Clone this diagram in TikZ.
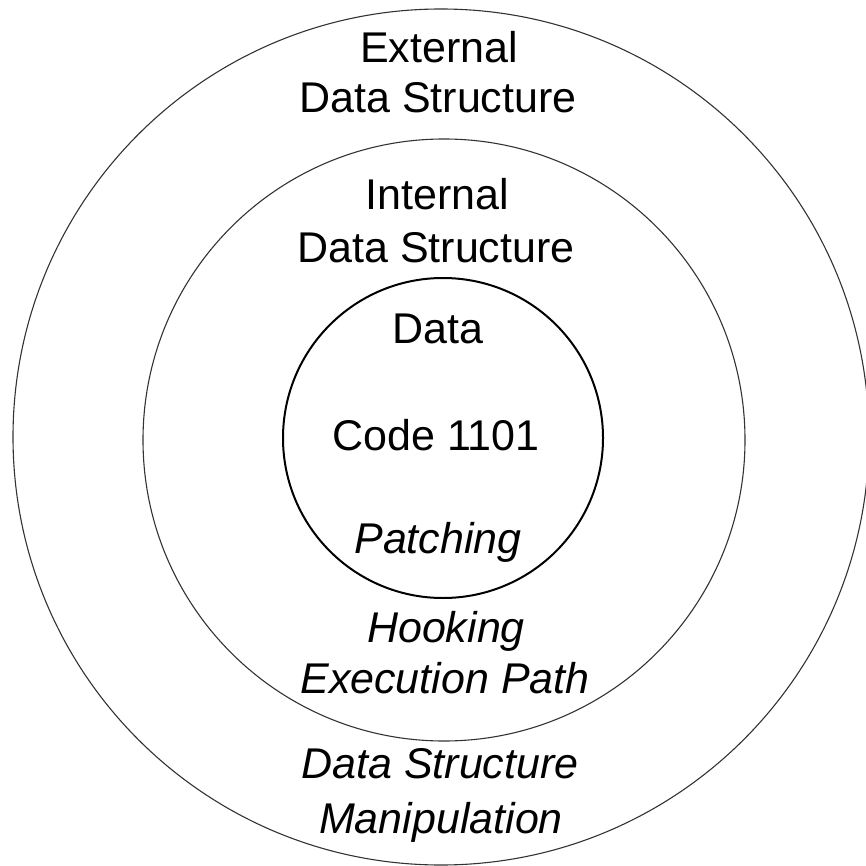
\documentclass[tikz,border=0pt]{standalone}
\usepackage{fontspec}
\setmainfont{Liberation Sans}
\begin{document}
\begin{tikzpicture}[x=1pt,y=-1pt,
  ring/.style={circle, draw=black!80, line width=1.1pt, inner sep=0pt},
  corering/.style={circle, draw=black, line width=2pt, inner sep=0pt},
  lbl/.style={anchor=base, inner sep=0pt, font=\fontsize{43}{50}\selectfont},
  ilbl/.style={lbl, font=\fontsize{43}{50}\selectfont\itshape}]
\useasboundingbox (0,0) rectangle (865,866);
\node[ring, minimum size=856pt] (outer) at (441,437) {};
\node[ring, minimum size=602pt] (middle) at (444,440) {};
\node[corering, minimum size=320pt] (inner) at (443,438) {};
\node[lbl] (ext1) at (439,63) {External};
\node[lbl] (ext2) at (438,113) {Data Structure};
\node[lbl] (int1) at (437,210) {Internal};
\node[lbl] (int2) at (436,262) {Data Structure};
\node[lbl] (data) at (438,343) {Data};
\node[lbl] (code) at (436,450) {Code 1101};
\node[ilbl] (patch) at (438,553) {Patching};
\node[ilbl] (hook) at (446,642) {Hooking};
\node[ilbl] (exec) at (445,693) {Execution Path};
\node[ilbl] (dsm1) at (440,778) {Data Structure};
\node[ilbl] (dsm2) at (441,833) {Manipulation};
\end{tikzpicture}
\end{document}
